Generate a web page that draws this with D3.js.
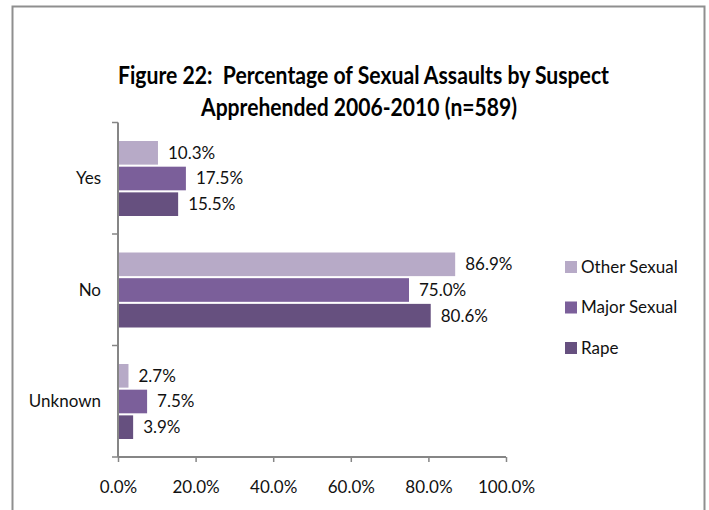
<!DOCTYPE html>
<html>
<head>
<meta charset="utf-8">
<script src="https://cdn.jsdelivr.net/npm/d3@7"></script>
<style>
  body { margin: 0; background: #fff; }
  svg { display: block; font-family: Lato, "Open Sans", sans-serif; }
</style>
</head>
<body>
<svg width="709" height="510"></svg>
<script>
// chart values
var categories = ["Yes", "No", "Unknown"]
var seriesNames = ["Other Sexual", "Major Sexual", "Rape"]
var otherSexual = [10.3, 86.9, 2.7]
var majorSexual = [17.5, 75.0, 7.5]
var rape = [15.5, 80.6, 3.9]
var xTicks = [0, 20, 40, 60, 80, 100]
var colors = ["#b7aac7", "#7b5f9a", "#66507f"]

var svg = d3.select('svg')

// outer frame
svg.append("rect")
  .attr("x", 12.5).attr("y", 6.5)
  .attr("width", 692).attr("height", 520)
  .attr("fill", "none")
  .attr("stroke", "#8f8f8f")
  .attr("stroke-width", 2)

// title (squeezed to look like the narrow original face)
svg.append("text")
  .attr("x", 118).attr("y", 84)
  .attr("font-weight", "bold").attr("font-size", 24)
  .attr("textLength", 491).attr("lengthAdjust", "spacingAndGlyphs")
  .text("Figure 22:\u00a0 Percentage of Sexual Assaults by Suspect")
svg.append("text")
  .attr("x", 201).attr("y", 116)
  .attr("font-weight", "bold").attr("font-size", 24)
  .attr("textLength", 316).attr("lengthAdjust", "spacingAndGlyphs")
  .text("Apprehended 2006-2010 (n=589)")

var x = d3.scaleLinear().domain([0, 100]).range([118, 506])
var y0 = d3.scaleBand().domain(categories).range([122.5, 457])
var y1 = d3.scaleBand().domain(seriesNames).range([18.5, 93.5]).paddingInner(0.08)

var rows = categories.map(function(c, i){
  return {cat: c, vals: [otherSexual[i], majorSexual[i], rape[i]]}
})

var groups = svg.selectAll('g.grp').data(rows)
  .enter().append('g')
  .attr('class', 'grp')
  .attr('transform', function(d){ return 'translate(0,' + y0(d.cat) + ')' })

groups.selectAll('rect').data(function(d){
    return d.vals.map(function(v, j){ return {s: seriesNames[j], v: v, j: j} })
  })
  .enter().append('rect')
  .attr('x', x(0))
  .attr('y', function(d){ return y1(d.s) })
  .attr('width', function(d){ return x(d.v) - x(0) })
  .attr('height', y1.bandwidth())
  .attr('fill', function(d){ return colors[d.j] })

groups.selectAll('text').data(function(d){
    return d.vals.map(function(v, j){ return {s: seriesNames[j], v: v} })
  })
  .enter().append('text')
  .attr('x', function(d){ return x(d.v) + 10 })
  .attr('y', function(d){ return y1(d.s) + y1.bandwidth() / 2 })
  .attr('dy', '0.35em')
  .attr('font-size', 17)
  .attr('fill', '#111')
  .text(function(d){ return d.v.toFixed(1) + '%' })

// x axis
var xAxis = svg.append('g')
  .attr('transform', 'translate(0,457)')
  .call(d3.axisBottom(x).tickValues(xTicks).tickSize(5).tickFormat(function(d){ return d.toFixed(1) + '%' }))
xAxis.select('.domain').attr('stroke', '#868686').attr('stroke-width', 2).attr('d', 'M118,0H506')
xAxis.selectAll('.tick line').attr('stroke', '#868686').attr('stroke-width', 1.5)
xAxis.selectAll('.tick text')
  .attr('font-size', 17).attr('font-family', 'Lato, sans-serif').attr('fill', '#111')
  .attr('y', 36).attr('dy', '0')

// y axis
var yAxis = svg.append('g').attr('transform', 'translate(118,0)')
yAxis.append('line')
  .attr('x1', 0).attr('x2', 0).attr('y1', 122.5).attr('y2', 457)
  .attr('stroke', '#868686').attr('stroke-width', 2)
var bounds = categories.map(function(c){ return y0(c) }).concat([457])
yAxis.selectAll('line.tk').data(bounds)
  .enter().append('line')
  .attr('class', 'tk')
  .attr('x1', -6).attr('x2', 0)
  .attr('y1', function(d){ return d }).attr('y2', function(d){ return d })
  .attr('stroke', '#868686').attr('stroke-width', 1.5)
yAxis.selectAll('text').data(categories)
  .enter().append('text')
  .attr('x', -17)
  .attr('y', function(d){ return y0(d) + y0.bandwidth() / 2 })
  .attr('dy', '0.35em')
  .attr('text-anchor', 'end')
  .attr('font-size', 17)
  .attr('fill', '#111')
  .text(function(d){ return d })

// legend
var legend = svg.selectAll('g.leg').data(seriesNames)
  .enter().append('g')
  .attr('class', 'leg')
  .attr('transform', function(d, i){ return 'translate(565,' + (267 + i * 40.5) + ')' })
legend.append('rect')
  .attr('x', 0).attr('y', -6).attr('width', 12).attr('height', 12)
  .attr('fill', function(d, i){ return colors[i] })
legend.append('text')
  .attr('x', 16).attr('dy', '0.35em')
  .attr('font-size', 17)
  .attr('fill', '#111')
  .text(function(d){ return d })
</script>
</body>
</html>
